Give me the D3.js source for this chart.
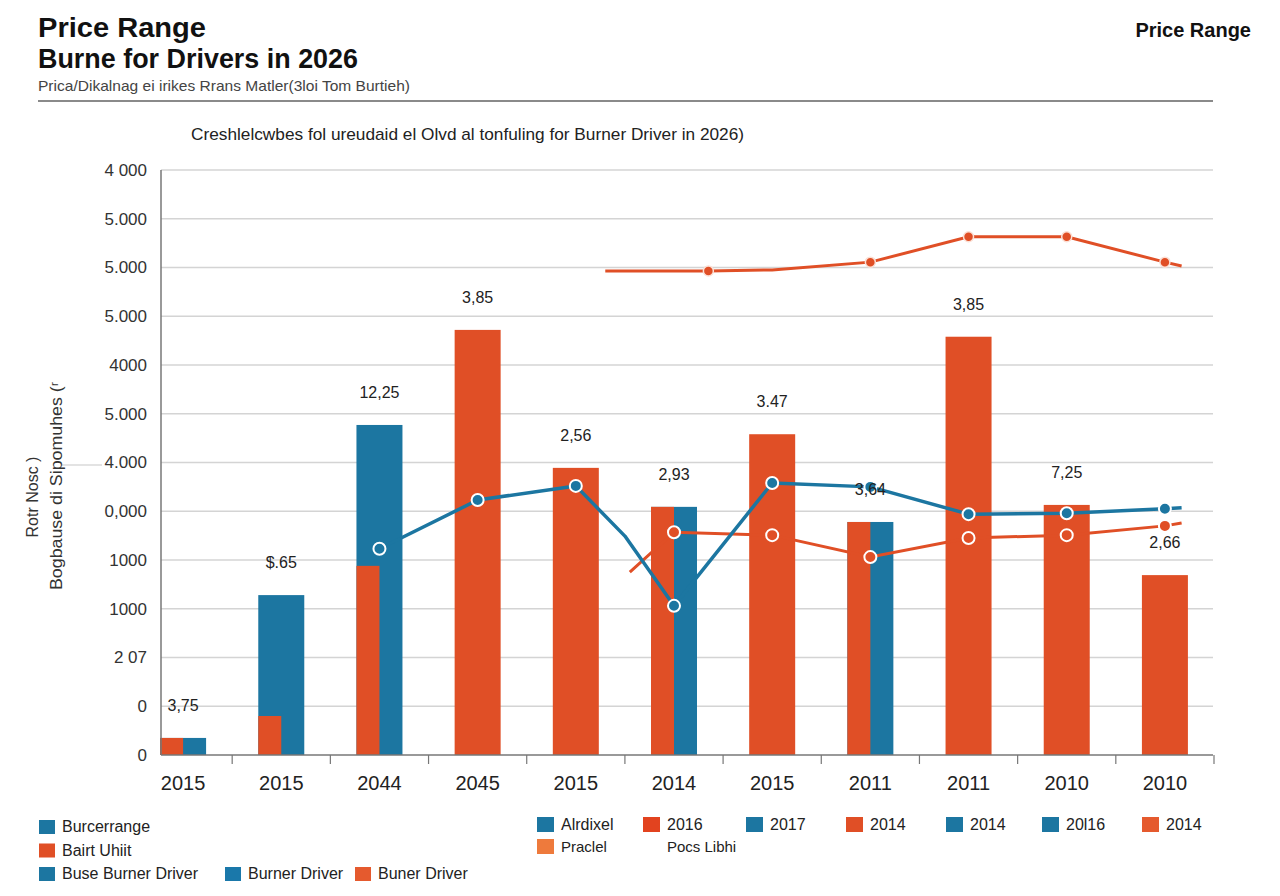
<!DOCTYPE html>
<html>
<head>
<meta charset="utf-8">
<script src="https://cdn.jsdelivr.net/npm/d3@7"></script>
<style>
  body { margin: 0; background: #ffffff; }
  svg { display: block; font-family: "Liberation Sans", Arial, sans-serif; }
</style>
</head>
<body>
<svg id="chart" width="1280" height="896"></svg>
<script>
// ---------- data ----------
const categories = ["2015","2015","2044","2045","2015","2014","2015","2011","2011","2010","2010"];
const orangeBars = [175, 400, 1940, 4360, 2945, 2545, 3290, 2390, 4290, 2565, 1845];
const blueBars   = [175, 1640, 3385, 0, 0, 2545, 0, 2390, 0, 0, 0];
const barLabels  = ["3,75","$.65","12,25","3,85","2,56","2,93","3.47","3,64","3,85","7,25","2,66"];
const yTickValues = [0,500,1000,1500,2000,2500,3000,3500,4000,4500,5000,5500,6000];
const yTickLabels = ["0","0","2 07","1000","1000","0,000","4.000","5.000","4000","5.000","5.000","5.000","4 000"];

const topLinePos  = [4.3, 5.35, 6, 7, 8, 9, 10, 10.17];
const topLineVals = [4965, 4965, 4975, 5055, 5315, 5315, 5055, 5015];
const topLineMarks = [1, 3, 4, 5, 6];

const blueLinePos  = [2, 3, 4, 4.5, 5, 6, 7, 8, 9, 10, 10.17];
const blueLineVals = [2115, 2615, 2760, 2245, 1530, 2790, 2750, 2470, 2480, 2525, 2535];

const lowLinePos  = [4.55, 5, 6, 7, 8, 9, 10, 10.17];
const lowLineVals = [1875, 2285, 2255, 2030, 2225, 2255, 2350, 2380];

const legendLeft = [
  {row: 0, items: [{label: "Burcerrange", c: "blue"}]},
  {row: 1, items: [{label: "Bairt Uhiit", c: "orange"}]},
  {row: 2, items: [{label: "Buse Burner Driver", c: "blue"}, {label: "Burner Driver", c: "blue2"}, {label: "Buner Driver", c: "orange2"}]}
];
const legendRight1 = [
  {label: "Alrdixel", c: "blue"}, {label: "2016", c: "red"}, {label: "2017", c: "blue"},
  {label: "2014", c: "orange"}, {label: "2014", c: "blue"}, {label: "20l16", c: "blue"}, {label: "2014", c: "orange2"}
];
const legendRight2 = [{label: "Praclel", c: "orange3"}, {label: "Pocs Libhi", c: null}];

// ---------- style ----------
const COL = {
  blue: "#1c76a1", blue2: "#1a78aa", orange: "#e04f26", orange2: "#e55a2e",
  red: "#e2431f", orange3: "#ee7a3c"
};
const ORANGE = "#e04f26", BLUE = "#1c76a1";

const svg = d3.select("#chart");
const pLeft = 161, pRight = 1213, pTop = 170, pBottom = 755;

const x = d3.scaleBand().domain(d3.range(categories.length)).range([134, 1214]).padding(0);
const xi = d3.scaleLinear().domain([0, 1]).range([x(0) + x.bandwidth()/2, x(1) + x.bandwidth()/2]);
const y = d3.scaleLinear().domain([0, 6000]).range([pBottom, pTop]);
const barW = 46;

// ---------- header ----------
svg.append("text").attr("x", 38).attr("y", 37).attr("font-size", 27).attr("font-weight", "bold")
  .attr("fill", "#111").attr("textLength", 168).attr("lengthAdjust", "spacingAndGlyphs").text("Price Range");
svg.append("text").attr("x", 38).attr("y", 68).attr("font-size", 27).attr("font-weight", "bold")
  .attr("fill", "#111").attr("textLength", 320).attr("lengthAdjust", "spacingAndGlyphs").text("Burne for Drivers in 2026");
svg.append("text").attr("x", 38).attr("y", 91).attr("font-size", 15).attr("fill", "#444")
  .attr("textLength", 372).attr("lengthAdjust", "spacingAndGlyphs").text("Prica/Dikalnag ei irikes Rrans Matler(3loi Tom Burtieh)");
svg.append("line").attr("x1", 38).attr("x2", 1213).attr("y1", 101).attr("y2", 101)
  .attr("stroke", "#8a8a8a").attr("stroke-width", 2);
svg.append("text").attr("x", 1251).attr("y", 37).attr("font-size", 20).attr("font-weight", "bold")
  .attr("text-anchor", "end").attr("fill", "#111").text("Price Range");
svg.append("text").attr("x", 191).attr("y", 140).attr("font-size", 17).attr("fill", "#222")
  .attr("textLength", 553).attr("lengthAdjust", "spacingAndGlyphs")
  .text("Creshlelcwbes fol ureudaid el Olvd al tonfuling for Burner Driver in 2026)");

// ---------- grid ----------
svg.append("g").selectAll("line").data(yTickValues.slice(1)).join("line")
  .attr("x1", pLeft).attr("x2", pRight).attr("y1", d => y(d)).attr("y2", d => y(d))
  .attr("stroke", "#d4d4d4").attr("stroke-width", 1.3);

// y tick labels
const yAxis = d3.axisLeft(y).tickValues(yTickValues).tickSize(0).tickPadding(14)
  .tickFormat((d, i) => yTickLabels[i]);
const gy = svg.append("g").attr("transform", `translate(${pLeft},0)`).call(yAxis);
gy.select(".domain").remove();
gy.selectAll("text").attr("font-size", 17).attr("fill", "#333")
  .attr("font-family", "'Liberation Sans', Arial, sans-serif");

// y title
svg.append("line").attr("x1", 62).attr("x2", 102).attr("y1", 465).attr("y2", 465)
  .attr("stroke", "#c8c8c8").attr("stroke-width", 1.2);
svg.append("text").attr("transform", "translate(38,497) rotate(-90)").attr("text-anchor", "middle")
  .attr("font-size", 16).attr("fill", "#333").text("Rotr Nosc )");
svg.append("text").attr("transform", "translate(62,486) rotate(-90)").attr("text-anchor", "middle")
  .attr("font-size", 16).attr("fill", "#333").attr("textLength", 208).attr("lengthAdjust", "spacingAndGlyphs")
  .text("Bogbause di Sipomuhes (ʳ");

// ---------- bars ----------
const gb = svg.append("g");
categories.forEach((c, i) => {
  const cx = x(i) + x.bandwidth()/2;
  if (blueBars[i] > 0) {
    gb.append("rect").attr("x", cx - barW/2).attr("width", barW)
      .attr("y", y(blueBars[i])).attr("height", pBottom - y(blueBars[i])).attr("fill", BLUE);
    gb.append("rect").attr("x", cx - barW/2).attr("width", barW/2)
      .attr("y", y(orangeBars[i])).attr("height", pBottom - y(orangeBars[i])).attr("fill", ORANGE);
  } else {
    gb.append("rect").attr("x", cx - barW/2).attr("width", barW)
      .attr("y", y(orangeBars[i])).attr("height", pBottom - y(orangeBars[i])).attr("fill", ORANGE);
  }
});

// ---------- x axis ----------
svg.append("line").attr("x1", pLeft).attr("x2", pRight).attr("y1", pBottom).attr("y2", pBottom)
  .attr("stroke", "#777").attr("stroke-width", 1.5);
svg.append("line").attr("x1", pLeft).attr("x2", pLeft).attr("y1", pTop).attr("y2", pBottom)
  .attr("stroke", "#777").attr("stroke-width", 1.5);
svg.append("g").selectAll("line").data(d3.range(1, categories.length + 1)).join("line")
  .attr("x1", d => x.range()[0] + d * x.step()).attr("x2", d => x.range()[0] + d * x.step())
  .attr("y1", pBottom).attr("y2", pBottom + 9).attr("stroke", "#777").attr("stroke-width", 1.2);
svg.append("g").selectAll("text").data(categories).join("text")
  .attr("x", (d, i) => x(i) + x.bandwidth()/2).attr("y", 790).attr("text-anchor", "middle")
  .attr("font-size", 20).attr("fill", "#222").text(d => d);

// ---------- lines ----------
const line = d3.line().x(d => xi(d[0])).y(d => y(d[1]));

const topPts = topLinePos.map((p, i) => [p, topLineVals[i]]);
const bluePts = blueLinePos.map((p, i) => [p, blueLineVals[i]]);
const lowPts = lowLinePos.map((p, i) => [p, lowLineVals[i]]);

svg.append("path").attr("d", line(lowPts)).attr("fill", "none").attr("stroke", ORANGE)
  .attr("stroke-width", 3);
svg.append("path").attr("d", line(bluePts)).attr("fill", "none").attr("stroke", BLUE)
  .attr("stroke-width", 3.5).attr("stroke-linejoin", "round");
svg.append("path").attr("d", line(topPts)).attr("fill", "none").attr("stroke", ORANGE)
  .attr("stroke-width", 3);

svg.append("g").selectAll("circle").data(lowPts.filter(d => Number.isInteger(d[0]))).join("circle")
  .attr("cx", d => xi(d[0])).attr("cy", d => y(d[1])).attr("r", 6)
  .attr("fill", ORANGE).attr("stroke", "#fff").attr("stroke-width", 2);
svg.append("g").selectAll("circle").data(bluePts.filter(d => Number.isInteger(d[0]))).join("circle")
  .attr("cx", d => xi(d[0])).attr("cy", d => y(d[1])).attr("r", 6)
  .attr("fill", BLUE).attr("stroke", "#fff").attr("stroke-width", 2);
svg.append("g").selectAll("circle").data(topLineMarks.map(k => topPts[k])).join("circle")
  .attr("cx", d => xi(d[0])).attr("cy", d => y(d[1])).attr("r", 5)
  .attr("fill", ORANGE).attr("stroke", "#fbe0d6").attr("stroke-width", 1.5);

// ---------- value labels ----------
svg.append("g").selectAll("text").data(barLabels).join("text")
  .attr("x", (d, i) => x(i) + x.bandwidth()/2)
  .attr("y", (d, i) => y(Math.max(orangeBars[i], blueBars[i])) - 27)
  .attr("text-anchor", "middle").attr("font-size", 16).attr("fill", "#222").text(d => d);

// ---------- legends ----------
const gl = svg.append("g").attr("font-size", 16).attr("fill", "#222");
legendLeft.forEach(r => {
  const xs = [39, 225, 355];
  r.items.forEach((it, j) => {
    const yy = 820 + r.row * 23.5;
    gl.append("rect").attr("x", xs[j]).attr("y", yy).attr("width", 16).attr("height", 14).attr("fill", COL[it.c]);
    gl.append("text").attr("x", xs[j] + 23).attr("y", yy + 12).text(it.label);
  });
});
const rx = [537, 643, 746, 846, 946, 1042, 1142];
legendRight1.forEach((it, j) => {
  gl.append("rect").attr("x", rx[j]).attr("y", 817).attr("width", 17).attr("height", 15).attr("fill", COL[it.c]);
  gl.append("text").attr("x", rx[j] + 24).attr("y", 830).text(it.label);
});
legendRight2.forEach((it, j) => {
  if (it.c) gl.append("rect").attr("x", rx[j]).attr("y", 839).attr("width", 17).attr("height", 15).attr("fill", COL[it.c]);
  gl.append("text").attr("x", rx[j] + 24).attr("y", 852).attr("font-size", 15).text(it.label);
});
</script>
</body>
</html>
